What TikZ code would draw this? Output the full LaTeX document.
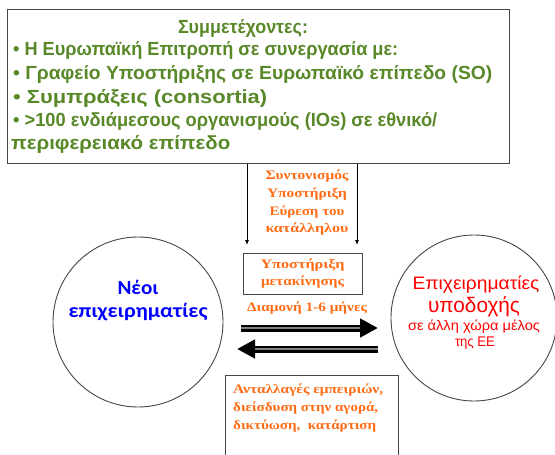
\documentclass[tikz,border=0pt]{standalone}
\usepackage{fontspec}
\usepackage{graphicx}
\setmainfont{Liberation Serif}
\setsansfont{Liberation Sans}
\newfontfamily\carlito{Carlito}
\usetikzlibrary{arrows.meta}
\definecolor{pgreen}{RGB}{88,136,40}
\definecolor{porange}{RGB}{255,108,20}
\definecolor{pblue}{RGB}{0,0,255}
\definecolor{pred}{RGB}{255,0,0}
\definecolor{pframe}{RGB}{70,70,70}
\newlength\fitlen
\newcommand\fitw[2]{\settowidth\fitlen{#2}\pgfmathsetmacro\fitfac{#1/\fitlen}\scalebox{\fitfac}[1]{#2}}
\tikzset{
  greentxt/.style={text=pgreen, font=\sffamily\bfseries\fontsize{19}{23}\selectfont, inner sep=0pt},
  orangetxt/.style={text=porange, font=\rmfamily\bfseries\fontsize{13}{17.7}\selectfont, inner sep=0pt},
  frame/.style={draw=pframe, line width=1pt},
  circ/.style={draw=pframe, line width=0.9pt, circle, inner sep=0pt},
  thinarrow/.style={draw=black, line width=0.8pt, -{Latex[length=5pt,width=4pt]}},
  bigshaft/.style={draw=black, line width=7pt, -{Triangle[length=18pt,width=18pt]}},
  greyband/.style={draw=gray, line width=2.2pt},
}
\begin{document}
\begin{tikzpicture}[x=1pt,y=-1pt]
\useasboundingbox[fill=white] (0,0) rectangle (555,455);
% top box
\node[frame, minimum width=502pt, minimum height=154pt, anchor=north west] (top) at (7,9) {};
\node[greentxt, anchor=base] (title) at (243,33) {\fitw{130}{Συμμετέχοντες:}};
\node[greentxt, anchor=base west] (l1) at (13,56) {\fitw{385}{• Η Ευρωπαϊκή Επιτροπή σε συνεργασία με:}};
\node[greentxt, anchor=base west] (l2) at (13,79) {\fitw{479}{• Γραφείο Υποστήριξης σε Ευρωπαϊκό επίπεδο (SO)}};
\node[greentxt, anchor=base west] (l3) at (13,103) {\fitw{254}{• Συμπράξεις (consortia)}};
\node[greentxt, anchor=base west] (l4) at (13,126) {\fitw{424}{• >100 ενδιάμεσους οργανισμούς (IOs) σε εθνικό/}};
\node[greentxt, anchor=base west] (l5) at (11,149) {\fitw{219}{περιφερειακό επίπεδο}};
% vertical arrows
\coordinate (va) at (247,245);
\coordinate (vb) at (357,245);
\draw[thinarrow] (top.south -| va) -- (va);
\draw[thinarrow] (top.south -| vb) -- (vb);
\node[orangetxt, align=center] (coord) at (307,203) {\fitw{83}{Συντονισμός}\\\fitw{80}{Υποστήριξη}\\\fitw{75}{Εύρεση του}\\\fitw{83}{κατάλληλου}};
% support box
\node[frame, minimum width=119pt, minimum height=41pt] (move) at (302.5,273.5) {};
\node[orangetxt, align=center] (movetxt) at (move.center) {\fitw{84}{Υποστήριξη}\\\fitw{83}{μετακίνησης}};
\node[orangetxt] (stay) at (307,308) {\fitw{120}{Διαμονή 1-6 μήνες}};
% circles
\node[circ, minimum size=170pt] (left) at (138,322) {};
\node[text=pblue, font=\carlito\bfseries\fontsize{20}{23}\selectfont, align=center, inner sep=0pt] (lefttxt) at (138,301) {\fitw{41}{Νέοι}\\\fitw{139}{επιχειρηματίες}};
\node[circ, minimum size=166pt] (right) at (474,318) {};
\node[text=pred, font=\sffamily\fontsize{18}{22}\selectfont, inner sep=0pt] (r1) at (476,285) {\fitw{127}{Επιχειρηματίες}};
\node[text=pred, font=\sffamily\fontsize{21}{24}\selectfont, inner sep=0pt] (r2) at (474,307) {\fitw{92}{υποδοχής}};
\node[text=pred, font=\sffamily\fontsize{14}{16}\selectfont, inner sep=0pt] (r3) at (474,327) {\fitw{132}{σε άλλη χώρα μέλος}};
\node[text=pred, font=\sffamily\fontsize{14}{16}\selectfont, inner sep=0pt] (r4) at (475,343) {\fitw{40}{της ΕΕ}};
% big arrows
\coordinate (ra) at (241,328);
\coordinate (rb) at (378,328);
\coordinate (la) at (378,349);
\coordinate (lb) at (237,349);
\draw[bigshaft] (ra) -- (rb);
\draw[greyband, shorten >=18pt] (ra) -- (rb);
\draw[bigshaft] (la) -- (lb);
\draw[greyband, shorten >=18pt] (la) -- (lb);
% bottom box
\node[frame, minimum width=173pt, minimum height=90pt, anchor=north west] (bottom) at (225,375) {};
\node[orangetxt, align=left, anchor=north west, font=\rmfamily\bfseries\fontsize{13}{18}\selectfont] (exch) at (233,384) {\fitw{150}{Ανταλλαγές εμπειριών,}\\\fitw{145}{διείσδυση στην αγορά,}\\\fitw{143}{δικτύωση,~ κατάρτιση}};
\end{tikzpicture}
\end{document}
